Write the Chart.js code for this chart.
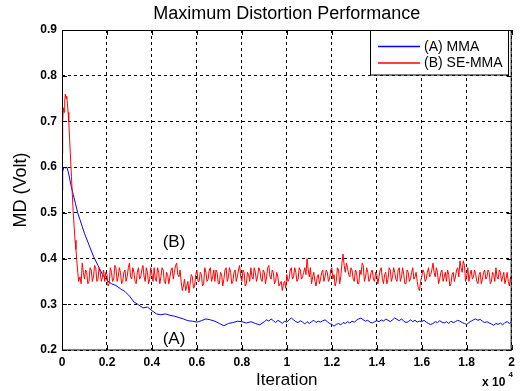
<!DOCTYPE html>
<html lang="en">
<head>
    <meta charset="UTF-8">
    <title>Maximum Distortion Performance</title>
    <style>
        html, body { margin: 0; padding: 0; background: #fff; }
        #wrap { width: 520px; height: 391px; }
    </style>
</head>
<body>

<div id="wrap"><canvas id="myChart" width="520" height="391"></canvas></div>

<script src="https://cdn.jsdelivr.net/npm/chart.js"></script>

<script>
    const titleText = 'Maximum Distortion Performance'
    const xTitle = 'Iteration'
    const yTitle = 'MD (Volt)'
    const seriesNames = ['(A) MMA', '(B) SE-MMA']
    const seriesColors = ['#0000ff', '#ff0000']
    const xTicks = [0, 0.2, 0.4, 0.6, 0.8, 1, 1.2, 1.4, 1.6, 1.8, 2]
    const xTickLabels = ['0', '0.2', '0.4', '0.6', '0.8', '1', '1.2', '1.4', '1.6', '1.8', '2']
    const yTicks = [0.2, 0.3, 0.4, 0.5, 0.6, 0.7, 0.8, 0.9]
    const yTickLabels = ['0.2', '0.3', '0.4', '0.5', '0.6', '0.7', '0.8', '0.9']

    // (A) MMA, start of the curve (iteration x 10^4)
    const mmaHeadIter = [0, 0.003, 0.008, 0.015, 0.022, 0.03, 0.04, 0.05, 0.06, 0.07, 0.08, 0.09, 0.10,
        0.12, 0.14, 0.16, 0.18, 0.20, 0.22, 0.24, 0.26, 0.28, 0.30, 0.32, 0.34, 0.36, 0.38, 0.40, 0.42,
        0.44, 0.46, 0.48, 0.50, 0.52, 0.54, 0.56, 0.58, 0.60, 0.62, 0.64, 0.66, 0.68, 0.70, 0.72, 0.74,
        0.76, 0.78, 0.80, 0.82, 0.84, 0.86, 0.88]
    const mmaHeadMD = [0.55, 0.59, 0.60, 0.598, 0.60, 0.585, 0.56, 0.54, 0.52, 0.50, 0.485, 0.47, 0.455,
        0.43, 0.405, 0.385, 0.365, 0.352, 0.345, 0.341, 0.334, 0.328, 0.318, 0.305, 0.299, 0.292, 0.294, 0.286, 0.279,
        0.277, 0.279, 0.276, 0.274, 0.271, 0.268, 0.264, 0.263, 0.261, 0.264, 0.268, 0.266, 0.263, 0.258, 0.253, 0.258,
        0.26, 0.263, 0.262, 0.259, 0.262, 0.258, 0.255]
    // (A) MMA, steady part from 0.90 to 2.00, one value every 0.01
    const mmaTailStart = 0.90
    const mmaTailMD = [
        0.262, 0.266, 0.263, 0.268, 0.264, 0.26, 0.265, 0.262, 0.258, 0.263,
        0.261, 0.266, 0.27, 0.266, 0.262, 0.26, 0.264, 0.261, 0.257, 0.262,
        0.258, 0.262, 0.265, 0.26, 0.263, 0.261, 0.264, 0.266, 0.262, 0.258,
        0.256, 0.252, 0.256, 0.258, 0.255, 0.26, 0.258, 0.262, 0.259, 0.263,
        0.261, 0.265, 0.268, 0.27, 0.266, 0.263, 0.265, 0.261, 0.259, 0.262,
        0.264, 0.262, 0.266, 0.263, 0.268, 0.265, 0.262, 0.266, 0.27, 0.267,
        0.264, 0.268, 0.263, 0.26, 0.262, 0.266, 0.262, 0.265, 0.261, 0.263,
        0.262, 0.265, 0.261, 0.258, 0.256, 0.258, 0.262, 0.26, 0.264, 0.261,
        0.259, 0.262, 0.258, 0.263, 0.26, 0.262, 0.265, 0.263, 0.26, 0.258,
        0.256, 0.26, 0.263, 0.266, 0.268, 0.265, 0.267, 0.263, 0.26, 0.262,
        0.259, 0.257, 0.254, 0.258, 0.256, 0.259, 0.255, 0.26, 0.262, 0.258,
        0.262]

    // (B) SE-MMA, start of the curve
    const seHeadIter = [0, 0.003, 0.006, 0.009, 0.012, 0.015, 0.018, 0.021, 0.024, 0.027, 0.03, 0.034,
        0.038, 0.042, 0.046, 0.05, 0.054, 0.058, 0.062, 0.066, 0.07, 0.074]
    const seHeadMD = [0.63, 0.70, 0.73, 0.72, 0.745, 0.76, 0.75, 0.755, 0.74, 0.72, 0.70, 0.66,
        0.62, 0.58, 0.54, 0.50, 0.47, 0.44, 0.42, 0.395, 0.37, 0.35]
    // (B) SE-MMA, noisy part from 0.08 to 2.00, one value every 0.01
    const seTailStart = 0.08
    const seTailMD = [
        0.36, 0.39, 0.355, 0.37, 0.35, 0.375, 0.36, 0.38, 0.355, 0.37,
        0.36, 0.35, 0.365, 0.345, 0.37, 0.355, 0.38, 0.36, 0.37, 0.35,
        0.375, 0.36, 0.39, 0.355, 0.37, 0.345, 0.38, 0.36, 0.385, 0.35,
        0.37, 0.355, 0.365, 0.38, 0.35, 0.37, 0.36, 0.375, 0.345, 0.365,
        0.36, 0.38, 0.37, 0.39, 0.36, 0.35, 0.34, 0.33, 0.35, 0.345,
        0.36, 0.34, 0.375, 0.35, 0.365, 0.345, 0.37, 0.355, 0.38, 0.36,
        0.35, 0.37, 0.345, 0.365, 0.355, 0.38, 0.36, 0.37, 0.35, 0.375,
        0.36, 0.385, 0.35, 0.37, 0.345, 0.365, 0.38, 0.355, 0.37, 0.36,
        0.375, 0.35, 0.37, 0.36, 0.385, 0.355, 0.37, 0.35, 0.36, 0.345,
        0.33, 0.35, 0.365, 0.355, 0.38, 0.36, 0.37, 0.355, 0.375, 0.36,
        0.38, 0.40, 0.36, 0.345, 0.37, 0.34, 0.365, 0.355, 0.375, 0.36,
        0.37, 0.355, 0.38, 0.365, 0.35, 0.375, 0.36, 0.41, 0.37, 0.38,
        0.36, 0.375, 0.35, 0.37, 0.345, 0.365, 0.385, 0.36, 0.37, 0.355,
        0.375, 0.35, 0.365, 0.36, 0.38, 0.345, 0.37, 0.355, 0.375, 0.36,
        0.37, 0.35, 0.38, 0.36, 0.365, 0.345, 0.37, 0.355, 0.38, 0.36,
        0.35, 0.33, 0.36, 0.37, 0.355, 0.38, 0.365, 0.39, 0.36, 0.37,
        0.355, 0.375, 0.36, 0.35, 0.365, 0.345, 0.37, 0.36, 0.38, 0.395,
        0.37, 0.385, 0.36, 0.35, 0.375, 0.36, 0.365, 0.345, 0.37, 0.355,
        0.375, 0.36, 0.37, 0.35, 0.365, 0.38, 0.355, 0.37, 0.36, 0.345,
        0.37, 0.34, 0.355]
    // (B) SE-MMA, the values half way between the ones above (0.085, 0.095, ...)
    const seTailMidMD = [
        0.345, 0.37, 0.375, 0.345, 0.38, 0.35, 0.385, 0.35, 0.38, 0.35,
        0.375, 0.37, 0.34, 0.38, 0.35, 0.385, 0.35, 0.38, 0.345, 0.37,
        0.35, 0.38, 0.36, 0.38, 0.35, 0.37, 0.355, 0.375, 0.36, 0.38,
        0.345, 0.38, 0.35, 0.355, 0.38, 0.345, 0.38, 0.35, 0.37, 0.345,
        0.375, 0.355, 0.385, 0.365, 0.375, 0.33, 0.355, 0.34, 0.325, 0.365,
        0.335, 0.365, 0.35, 0.37, 0.34, 0.38, 0.35, 0.375, 0.35, 0.375,
        0.375, 0.345, 0.37, 0.34, 0.375, 0.35, 0.38, 0.345, 0.37, 0.35,
        0.375, 0.36, 0.375, 0.34, 0.37, 0.35, 0.36, 0.38, 0.35, 0.38,
        0.355, 0.375, 0.345, 0.38, 0.36, 0.375, 0.345, 0.37, 0.34, 0.35,
        0.345, 0.335, 0.35, 0.375, 0.355, 0.38, 0.35, 0.38, 0.355, 0.37,
        0.365, 0.375, 0.38, 0.36, 0.35, 0.36, 0.345, 0.37, 0.35, 0.375,
        0.35, 0.375, 0.355, 0.34, 0.38, 0.345, 0.39, 0.385, 0.39, 0.365,
        0.38, 0.355, 0.375, 0.345, 0.375, 0.39, 0.35, 0.38, 0.35, 0.37,
        0.355, 0.37, 0.345, 0.375, 0.355, 0.365, 0.345, 0.38, 0.35, 0.38,
        0.355, 0.375, 0.35, 0.38, 0.345, 0.375, 0.35, 0.37, 0.355, 0.37,
        0.335, 0.35, 0.375, 0.35, 0.37, 0.36, 0.375, 0.37, 0.38, 0.345,
        0.37, 0.35, 0.37, 0.375, 0.34, 0.365, 0.35, 0.375, 0.36, 0.38,
        0.395, 0.35, 0.38, 0.365, 0.355, 0.375, 0.35, 0.365, 0.345, 0.37,
        0.355, 0.375, 0.345, 0.37, 0.35, 0.36, 0.375, 0.35, 0.37, 0.355,
        0.35, 0.36]

    const step = 0.01
    const font = 'Arial, "Liberation Sans", Helvetica, sans-serif'

    function toPoints(headIter, headMD, tailStart, tailMD, midMD) {
        let pts = []
        for (let i = 0; i < headIter.length; i++) {
            pts.push({x: headIter[i], y: headMD[i]})
        }
        for (let i = 0; i < tailMD.length; i++) {
            let x = tailStart + i * step
            pts.push({x: Math.round(x * 1000) / 1000, y: tailMD[i]})
            if (midMD && midMD[i] !== undefined) {
                pts.push({x: Math.round((x + step / 2) * 1000) / 1000, y: midMD[i]})
            }
        }
        return pts
    }

    // frame, inner ticks, legend, labels (MATLAB look)
    const decorations = {
        id: 'decorations',
        afterDraw(chart) {
            const c = chart.ctx
            const a = chart.chartArea
            const xs = chart.scales.x
            const ys = chart.scales.y
            c.save()
            c.strokeStyle = '#000'
            c.lineWidth = 1
            c.strokeRect(a.left + 0.5, a.top + 0.5, a.right - a.left - 1, a.bottom - a.top - 0.5)

            c.beginPath()
            xTicks.forEach((v) => {
                let px = Math.round(xs.getPixelForValue(v)) + 0.5
                c.moveTo(px, a.bottom)
                c.lineTo(px, a.bottom - 5)
                c.moveTo(px, a.top)
                c.lineTo(px, a.top + 5)
            })
            yTicks.forEach((v) => {
                let py = Math.round(ys.getPixelForValue(v)) + 0.5
                c.moveTo(a.left, py)
                c.lineTo(a.left + 5, py)
                c.moveTo(a.right, py)
                c.lineTo(a.right - 5, py)
            })
            c.stroke()

            // legend box
            const lx = 370.5, ly = a.top + 0.5, lw = 138, lh = 44.5
            c.fillStyle = '#fff'
            c.fillRect(lx, ly, lw, lh)
            c.strokeRect(lx, ly, lw, lh)
            c.font = '14px ' + font
            c.textBaseline = 'middle'
            c.textAlign = 'left'

            // sample lines
            c.lineWidth = 1.3
            c.strokeStyle = seriesColors[0]
            c.beginPath()
            c.moveTo(378, 46.5)
            c.lineTo(420, 46.5)
            c.stroke()
            c.strokeStyle = seriesColors[1]
            c.beginPath()
            c.moveTo(378, 63)
            c.lineTo(420, 63)
            c.stroke()

            c.fillStyle = '#000'
            c.fillText(seriesNames[0], 424, 47)
            c.fillText(seriesNames[1], 424, 63.5)

            c.textAlign = 'center'
            c.font = '18px ' + font
            c.fillText(titleText, (a.left + a.right) / 2, 14)
            c.font = '17px ' + font
            c.fillText('(B)', 174, 242)
            c.fillText('(A)', 174, 339)
            c.fillText(xTitle, (a.left + a.right) / 2, 380)

            c.save()
            c.translate(21, (a.top + a.bottom) / 2)
            c.rotate(-Math.PI / 2)
            c.font = '18px ' + font
            c.fillText(yTitle, 0, 0)
            c.restore()

            c.font = 'bold 12px ' + font
            c.textAlign = 'left'
            c.fillText('x 10', 482, 383)
            c.font = 'bold 8px ' + font
            c.fillText('4', 508.5, 375)
            c.restore()
        }
    }

    const ctx = document.getElementById('myChart')
    new Chart(ctx, {
        type: 'scatter',
        data: {
            datasets: [{
                label: seriesNames[1],
                data: toPoints(seHeadIter, seHeadMD, seTailStart, seTailMD, seTailMidMD),
                borderColor: seriesColors[1],
                borderWidth: 1,
                showLine: true,
                pointRadius: 0,
                order: 0
            }, {
                label: seriesNames[0],
                data: toPoints(mmaHeadIter, mmaHeadMD, mmaTailStart, mmaTailMD),
                borderColor: seriesColors[0],
                borderWidth: 1,
                showLine: true,
                pointRadius: 0,
                order: 1
            }]
        },
        options: {
            responsive: false,
            animation: false,
            layout: { padding: { top: 30, right: 6, left: 0, bottom: 0 } },
            plugins: {
                legend: { display: false },
                title: { display: false },
                tooltip: { enabled: false }
            },
            scales: {
                x: {
                    type: 'linear',
                    min: 0,
                    max: 2,
                    afterBuildTicks: (scale) => { scale.ticks = xTicks.map(v => ({value: v})) },
                    afterFit: (scale) => { scale.height = 41 },
                    ticks: {
                        autoSkip: false,
                        maxRotation: 0,
                        padding: 5,
                        color: '#000',
                        font: { size: 12, weight: 'bold', family: font },
                        callback: (v, i) => xTickLabels[i]
                    },
                    grid: { color: '#000', lineWidth: 1, drawTicks: false },
                    border: { display: false, dash: [3, 3] }
                },
                y: {
                    min: 0.2,
                    max: 0.9,
                    afterBuildTicks: (scale) => { scale.ticks = yTicks.map(v => ({value: v})) },
                    afterFit: (scale) => { scale.width = 62 },
                    ticks: {
                        autoSkip: false,
                        padding: 5,
                        color: '#000',
                        font: { size: 12, weight: 'bold', family: font },
                        callback: (v, i) => yTickLabels[i]
                    },
                    grid: { color: '#000', lineWidth: 1, drawTicks: false },
                    border: { display: false, dash: [3, 3] }
                }
            }
        },
        plugins: [decorations]
    });
</script>
</body>
</html>
